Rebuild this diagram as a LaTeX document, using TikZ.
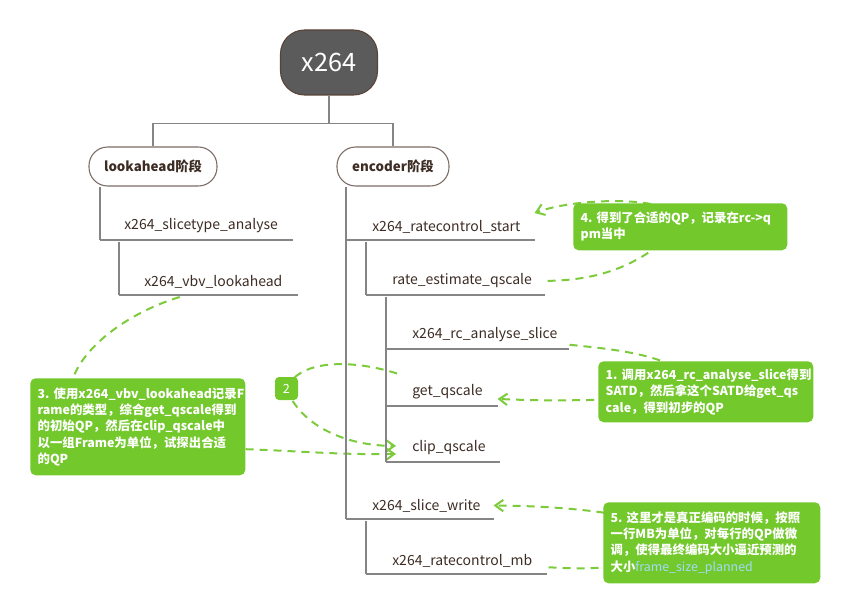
\documentclass[tikz,border=0pt]{standalone}
\usepackage{fontspec}
\newfontfamily\cjk{Noto Sans CJK SC}
\usetikzlibrary{arrows.meta,calc}
\definecolor{treegray}{HTML}{858585}
\definecolor{callgreen}{HTML}{73C82C}
\definecolor{dashgreen}{HTML}{7CCB3A}
\definecolor{labeltext}{HTML}{3D2C24}
\definecolor{rootfill}{HTML}{5B5B5B}
\definecolor{rootline}{HTML}{5A4336}
\definecolor{stageline}{HTML}{7A6C64}
\definecolor{planblue}{HTML}{A3DAF7}
\pgfdeclarelayer{bg}
\pgfsetlayers{bg,main}
\begin{document}
\begin{tikzpicture}[x=0.75pt,y=-0.75pt,
  treeline/.style={draw=treegray, line width=0.9pt},
  leaf/.style={anchor=south west, inner xsep=0pt, inner ysep=5pt, align=left,
    text width=#1, font=\cjk\fontsize{10.5}{12}\selectfont, text=labeltext},
  stagebox/.style={draw=stageline, line width=0.8pt, fill=white, rounded corners=14pt,
    minimum height=29.25pt, inner sep=0pt, font=\cjk\bfseries\fontsize{10}{12}\selectfont, text=labeltext},
  rootbox/.style={draw=rootline, line width=0.8pt, fill=rootfill, rounded corners=18pt,
    minimum width=72.75pt, minimum height=48.75pt, inner sep=0pt, text=white,
    font=\cjk\fontsize{19}{22}\selectfont},
  callout/.style={fill=callgreen, rounded corners=4pt, anchor=north west, inner xsep=5.5pt,
    inner ysep=0pt, align=left, text=white, font=\cjk\bfseries\fontsize{9.3}{12.2}\selectfont},
  smallcallout/.style={fill=callgreen, rounded corners=3pt, minimum size=17.25pt, inner sep=0pt,
    text=white, font=\cjk\fontsize{9.5}{11}\selectfont},
  rel/.style={draw=dashgreen, line width=1.5pt, dash pattern=on 6pt off 4.5pt},
  relarrow/.style={rel, -{Straight Barb[length=6pt,width=8.5pt]}},
]
\useasboundingbox (0,0) rectangle (850,613);

% root and stages
\node[rootbox] (root) at (329,62.5) {x264};
\node[stagebox, minimum width=96pt] (la) at (153,166.5) {lookahead阶段};
\node[stagebox, minimum width=84pt] (enc) at (393,166.5) {encoder阶段};

\draw[treeline] (root.south) -- ++(0,28) coordinate (fork);
\draw[treeline] (fork) -| (la.north);
\draw[treeline] (fork) -| (enc.north);

% leaves
\node[leaf=144pt]    (sa) at (100,240) {\hspace*{18pt}x264\_slicetype\_analyse};
\node[leaf=133.5pt]  (vl) at (119,295) {\hspace*{18.75pt}x264\_vbv\_lookahead};
\node[leaf=141pt]    (rs) at (346,240) {\hspace*{19.5pt}x264\_ratecontrol\_start};
\node[leaf=133.5pt]  (re) at (366,295) {\hspace*{19.5pt}rate\_estimate\_qscale};
\node[leaf=136.5pt]  (ra) at (386,349) {\hspace*{19.5pt}x264\_rc\_analyse\_slice};
\node[leaf=83.25pt]  (gq) at (386,406) {\hspace*{19.5pt}get\_qscale};
\node[leaf=84.75pt]  (cq) at (386,462) {\hspace*{19.5pt}clip\_qscale};
\node[leaf=110.25pt] (sw) at (346,519) {\hspace*{19.5pt}x264\_slice\_write};
\node[leaf=135pt]    (mb) at (366,574) {\hspace*{19.5pt}x264\_ratecontrol\_mb};

\foreach \n in {sa,vl,rs,re,ra,gq,cq,sw,mb}
  \draw[treeline] (\n.south west) -- (\n.south east);

\draw[treeline] (la.south -| sa.south west) -- (sa.south west);
\draw[treeline] ($(sa.south west -| vl.south west)+(0,2)$) -- (vl.south west);
\draw[treeline] (enc.south -| sw.south west) -- (sw.south west);
\draw[treeline] ($(rs.south west -| re.south west)+(0,2)$) -- (re.south west);
\draw[treeline] ($(re.south west -| cq.south west)+(0,2)$) -- (cq.south west);
\draw[treeline] ($(sw.south west -| mb.south west)+(0,2)$) -- (mb.south west);

% callouts
\node[callout, text width=149.5pt, minimum height=35.25pt] (c4) at (573,203)
  {4.~得到了合适的QP，记录在rc->q\\pm当中};
\node[callout, text width=150.25pt, minimum height=45.75pt] (c1) at (598,361)
  {1.~调用x264\_rc\_analyse\_slice得到\\SATD，然后拿这个SATD给get\_qs\\cale，得到初步的QP};
\node[callout, text width=151.75pt, minimum height=60.75pt] (c5) at (603,502)
  {5.~这里才是真正编码的时候，按照\\一行MB为单位，对每行的QP做微\\调，使得最终编码大小逼近预测的\\大小{\mdseries\color{planblue}frame\_size\_planned}};
\node[callout, text width=150.25pt, minimum height=72.75pt] (c3) at (30,378)
  {3.~使用x264\_vbv\_lookahead记录F\\rame的类型，综合get\_qscale得到\\的初始QP，然后在clip\_qscale中\\以一组Frame为单位，试探出合适\\的QP};
\node[smallcallout] (c2) at (286.5,388.5) {2};

% relationships
\begin{pgfonlayer}{bg}
\draw[rel] ($(re.east)+(3,0)$) .. controls (600,280) and (640,266) .. (c4.center);
\draw[relarrow] (c4.center) .. controls (690,195) and (580,196) .. (rs.north east);

\draw[rel] ($(ra.east)!.7!(ra.south east)+(1,0)$) .. controls (620,350) and (680,355) .. (c1.center);
\draw[relarrow] (c1.center) .. controls (650,400) and (560,402) .. ($(gq.east)!.5!(gq.south east)$);

\draw[rel] ($(mb.east)!.5!(mb.south east)+(2,0)$) .. controls (580,569) and (640,572) .. (c5.center);
\draw[relarrow] (c5.center) .. controls (650,512) and (560,506) .. (sw.east);

\draw[rel] ($(vl.south west)!.34!(vl.south east)+(0,2)$) .. controls (130,312) and (85,345) .. ($(c3.north west)!.2!(c3.north east)$);
\draw[relarrow] ($(c3.north east)!.73!(c3.south east)$) .. controls (300,451) and (340,455) .. ($(cq.west)+(10,6)$);

\draw[rel] ($(gq.north west)+(11,-4)$) .. controls (355,360) and (300,358) .. (c2.center);
\draw[relarrow] (c2.center) .. controls (300,425) and (345,446) .. ($(cq.west)+(10,-2)$);
\end{pgfonlayer}
\end{tikzpicture}
\end{document}
